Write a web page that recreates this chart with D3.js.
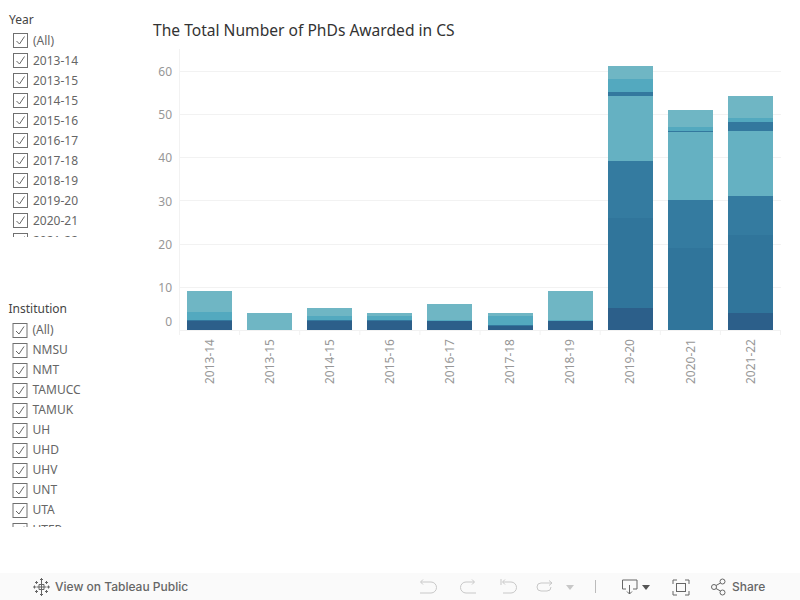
<!DOCTYPE html>
<html>
<head>
<meta charset="utf-8">
<script src="https://cdn.jsdelivr.net/npm/d3@7"></script>
<style>
  html, body { margin: 0; padding: 0; background: #fff; }
  svg { display: block; font-family: "Noto Sans", sans-serif; }
  .grid line { stroke: #f2f2f2; }
  .axis path { display: none; }
  .axis text { fill: #979797; font-size: 12px; font-family: "Noto Sans", sans-serif; }
  .axis line { stroke: #f0f0f0; }
</style>
</head>
<body>
<svg id="chart" width="800" height="600"></svg>
<script>
// values
var years = ["2013-14", "2013-15", "2014-15", "2015-16", "2016-17", "2017-18", "2018-19", "2019-20", "2020-21", "2021-22"];
var navy   = [2, 0, 2, 2, 2, 1, 2, 5, 0, 4];
var deep   = [0, 0, 0, 0, 0, 0, 0, 21, 19, 18];
var steel  = [0, 0, 0, 0, 0, 0, 0, 13, 11, 9];
var teal   = [0, 0, 0, 0, 0, 0, 0, 15, 15.8, 15];
var blue   = [0.2, 0, 0.2, 0.2, 0, 0.2, 0, 1, 0.2, 2];
var aqua   = [2, 0, 1, 1, 0.2, 2, 0.2, 3, 1, 1];
var pale   = [4.8, 4, 1.8, 0.8, 3.8, 0.8, 6.8, 3, 3.9, 5];
var yTicks = [0, 10, 20, 30, 40, 50, 60];
var yearFilter = ["(All)", "2013-14", "2013-15", "2014-15", "2015-16", "2016-17", "2017-18", "2018-19", "2019-20", "2020-21", "2021-22"];
var institutionFilter = ["(All)", "NMSU", "NMT", "TAMUCC", "TAMUK", "UH", "UHD", "UHV", "UNT", "UTA", "UTEP"];

var seriesNames = ["navy", "deep", "steel", "teal", "blue", "aqua", "pale"];
var seriesValues = [navy, deep, steel, teal, blue, aqua, pale];
var seriesColors = ["#2c5f8a", "#30759b", "#347ba0", "#65b1c2", "#33789e", "#53a9bf", "#6fb6c4"];

var svg = d3.select("#chart");

var rows = years.map(function (y, i) {
  var r = { year: y };
  seriesNames.forEach(function (n, j) { r[n] = seriesValues[j][i]; });
  return r;
});
var stacked = d3.stack().keys(seriesNames)(rows);

var left = 179.5, right = 780.5;
var y = d3.scaleLinear().domain([0, 60]).range([330, 70.5]);
var x = d3.scaleBand().domain(years).range([left, right]).paddingInner(0.25).paddingOuter(0.125);

// gridlines
svg.append("g").attr("class", "grid")
  .selectAll("line")
  .data(yTicks)
  .enter()
  .append("line")
  .attr("x1", left)
  .attr("x2", 781)
  .attr("y1", function (d) { return Math.round(y(d)) + 0.5; })
  .attr("y2", function (d) { return Math.round(y(d)) + 0.5; });

svg.append("line")
  .attr("x1", left).attr("x2", left)
  .attr("y1", 49).attr("y2", 335)
  .attr("stroke", "#f2f2f2");

// draw bars, snapped to whole pixels so no seams show between layers
svg.selectAll(".layer")
  .data(stacked)
  .enter()
  .append("g")
  .attr("class", "layer")
  .attr("fill", function (d, i) { return seriesColors[i]; })
  .selectAll("rect")
  .data(function (d) { return d; })
  .enter()
  .append("rect")
  .attr("x", function (d) { return Math.round(x(d.data.year)); })
  .attr("width", Math.round(x.bandwidth()))
  .attr("y", function (d) { return Math.round(y(d[1])); })
  .attr("height", function (d) { return Math.round(y(d[0])) - Math.round(y(d[1])); });

// y axis, the 0 label sits higher so it stays inside the pane
var yAxis = svg.append("g").attr("class", "axis")
  .attr("transform", "translate(" + left + ",0)")
  .call(d3.axisLeft(y).tickValues(yTicks).tickSize(0).tickPadding(7.5));
yAxis.selectAll("text")
  .attr("y", function (d) { return d === 0 ? -8 : 1; });

// x axis
var xAxis = svg.append("g").attr("class", "axis")
  .attr("transform", "translate(0,330)")
  .call(d3.axisBottom(x).tickSize(0));
xAxis.selectAll("text")
  .attr("transform", "rotate(-90)")
  .attr("text-anchor", "end")
  .attr("x", -9)
  .attr("y", 0)
  .attr("dy", "0.35em");

svg.append("g").attr("class", "grid")
  .selectAll("line")
  .data(years.concat(["end"]))
  .enter()
  .append("line")
  .attr("x1", function (d, i) { return left + i * x.step(); })
  .attr("x2", function (d, i) { return left + i * x.step(); })
  .attr("y1", 330.5)
  .attr("y2", 335);

// title
svg.append("text")
  .attr("x", 153).attr("y", 36)
  .attr("font-size", 15.6)
  .attr("fill", "#333")
  .text("The Total Number of PhDs Awarded in CS");

// filter lists
function drawFilter(name, title, items, titleX, titleY, boxX, top, textY, clipBottom) {
  svg.append("text")
    .attr("x", titleX).attr("y", titleY)
    .attr("font-size", 12)
    .attr("fill", "#444")
    .text(title);
  svg.append("clipPath").attr("id", "clip-" + name)
    .append("rect")
    .attr("x", 0).attr("y", top - 8).attr("width", 140).attr("height", clipBottom - top + 8);
  var row = svg.append("g")
    .attr("clip-path", "url(#clip-" + name + ")")
    .selectAll("g")
    .data(items)
    .enter()
    .append("g")
    .attr("transform", function (d, i) { return "translate(" + boxX + "," + (top + i * 20) + ")"; });
  row.append("rect")
    .attr("x", 0.5).attr("y", 0.5)
    .attr("width", 14).attr("height", 14)
    .attr("fill", "#fff")
    .attr("stroke", "#707070");
  row.append("path")
    .attr("d", "M3.5 8 L6.5 11 L11.5 3.5")
    .attr("fill", "none")
    .attr("stroke", "#666");
  row.append("text")
    .attr("x", 20).attr("y", textY)
    .attr("font-size", 12)
    .attr("fill", "#666")
    .text(function (d) { return d; });
}
drawFilter("year", "Year", yearFilter, 9, 24, 13, 33, 12, 237);
drawFilter("inst", "Institution", institutionFilter, 8.5, 313, 12.5, 323, 11, 527);

// toolbar
svg.append("rect")
  .attr("x", 0).attr("y", 573).attr("width", 800).attr("height", 27)
  .attr("fill", "#fafafa");
svg.append("text")
  .attr("x", 55).attr("y", 591)
  .attr("font-size", 12)
  .attr("font-family", "Inter, sans-serif")
  .attr("font-weight", 500)
  .attr("fill", "#666")
  .text("View on Tableau Public");
svg.append("text")
  .attr("x", 732).attr("y", 591)
  .attr("font-size", 12)
  .attr("font-family", "Inter, sans-serif")
  .attr("font-weight", 500)
  .attr("fill", "#666")
  .text("Share");

// toolbar icons
var tb = svg.append("g").attr("fill", "none").attr("stroke", "#666");
tb.append("path").attr("d",
  "M41.5 580 V594 M36.5 587 H46.5 M39 584.5 V589.5 M44 584.5 V589.5 M39 584.5 H44 M39 589.5 H44 " +
  "M41.5 578 V581 M40 579.5 H43 M41.5 593 V596 M40 594.5 H43 " +
  "M34.5 585.5 V588.5 M33 587 H36 M48.5 585.5 V588.5 M47 587 H50 " +
  "M36.5 581 V584 M35 582.5 H38 M46.5 581 V584 M45 582.5 H48 " +
  "M36.5 590 V593 M35 591.5 H38 M46.5 590 V593 M45 591.5 H48");
var faint = svg.append("g").attr("fill", "none").attr("stroke", "#c8c8c8");
faint.append("path").attr("d", "M421 582 H431 A5.5 5.5 0 0 1 431 593 H420 M423 579.5 L420.5 582 L423 584.5");
faint.append("path").attr("d", "M474 582 H466 A5.5 5.5 0 0 0 466 593 H476 M472 579.5 L474.5 582 L472 584.5");
faint.append("path").attr("d", "M501 579 V585 M503 582 H511 A5.5 5.5 0 0 1 511 593 H503 M505 579.5 L502.5 582 L505 584.5");
faint.append("path").attr("d", "M552 583 H541 A4 4 0 0 0 541 591 H547 A4 4 0 0 0 551 587 M549 580.5 L552 583 L549 585.5");
svg.append("path").attr("d", "M566 585 H574 L570 590 Z").attr("fill", "#c8c8c8");
svg.append("line").attr("x1", 595.5).attr("x2", 595.5).attr("y1", 580).attr("y2", 593).attr("stroke", "#bbb");
tb.append("path").attr("d", "M626 589 H622.5 V580 H637 V589 H633 M629.5 585 V594 M627 591.5 L629.5 594 L632 591.5");
svg.append("path").attr("d", "M642 585 H650 L646 590 Z").attr("fill", "#555");
tb.append("path").attr("d", "M673 584 V580 H677 M685 580 H689 V584 M689 591 V595 H685 M677 595 H673 V591");
tb.append("rect").attr("x", 676.5).attr("y", 583.5).attr("width", 9).attr("height", 8);
tb.append("circle").attr("cx", 714).attr("cy", 587).attr("r", 2.5);
tb.append("circle").attr("cx", 722.5).attr("cy", 581.5).attr("r", 2.5);
tb.append("circle").attr("cx", 722.5).attr("cy", 592.5).attr("r", 2.5);
tb.append("path").attr("d", "M716 585.5 L720.5 583 M716 588.5 L720.5 591");
</script>
</body>
</html>
